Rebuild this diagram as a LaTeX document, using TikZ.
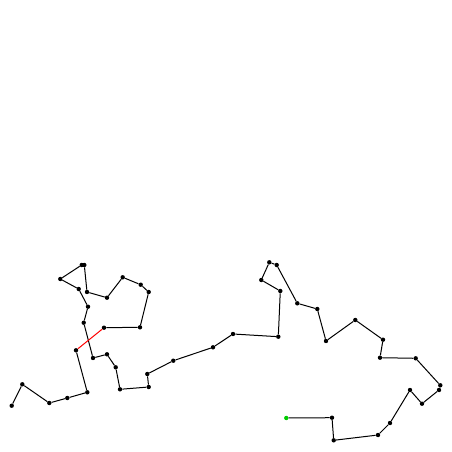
\documentclass[tikz,border=0pt]{standalone}
\begin{document}
\begin{tikzpicture}[x=1pt,y=-1pt,
  dot/.style={circle,fill=black,inner sep=0pt,minimum size=4.4pt},
  startdot/.style={circle,fill=green!80!black,inner sep=0pt,minimum size=4.4pt},
  edge/.style={line width=1pt,black},
  rededge/.style={line width=1pt,red}]
\useasboundingbox (0,0) rectangle (452,452);
\node[startdot] (p0) at (286.3,418) {};
\foreach \n/\x/\y in {
 p1/332/417.7, p2/333.7/440.3, p3/378/435, p4/390/423, p5/410/390,
 p6/422/403.7, p7/439/390, p8/440.3/385.3, p9/415.7/358.3, p10/380/357.7,
 p11/383/339.7, p12/355.3/320, p13/326/341, p14/317.3/309, p15/297.3/303.3,
 p16/276.7/265, p17/269.3/262.3, p18/261.3/280, p19/280.3/291, p20/278.3/336.7,
 p21/233/334, p22/213/347.3, p23/173.3/360.7, p24/147.3/374, p25/148.7/387,
 p26/120/389.3, p27/115.7/367.3, p28/107/354.3, p29/93/358, p30/83.7/322.7,
 p31/88/306.7, p32/78.7/289, p33/60.3/279, p34/81.7/265, p35/84.3/265,
 p36/87/292, p37/107/297.7, p38/122.7/277.3, p39/140.7/284.7, p40/148.7/292,
 p41/140/327.3, p42/104/327.7, p43/76/350.3, p44/87.3/392.3, p45/67.3/398,
 p46/49.3/403, p47/22.3/384.3, p48/11.7/405.7}
 {\node[dot] (\n) at (\x,\y) {};}
\draw[edge] (p0) -- (p1) -- (p2) -- (p3) -- (p4) -- (p5) -- (p6) -- (p7) -- (p8) -- (p9) -- (p10)
 -- (p11) -- (p12) -- (p13) -- (p14) -- (p15) -- (p16) -- (p17) -- (p18) -- (p19) -- (p20)
 -- (p21) -- (p22) -- (p23) -- (p24) -- (p25) -- (p26) -- (p27) -- (p28) -- (p29) -- (p30)
 -- (p31) -- (p32) -- (p33) -- (p34) -- (p35) -- (p36) -- (p37) -- (p38) -- (p39) -- (p40)
 -- (p41) -- (p42);
\draw[rededge] (p42) -- (p43);
\draw[edge] (p43) -- (p44) -- (p45) -- (p46) -- (p47) -- (p48);
\end{tikzpicture}
\end{document}
